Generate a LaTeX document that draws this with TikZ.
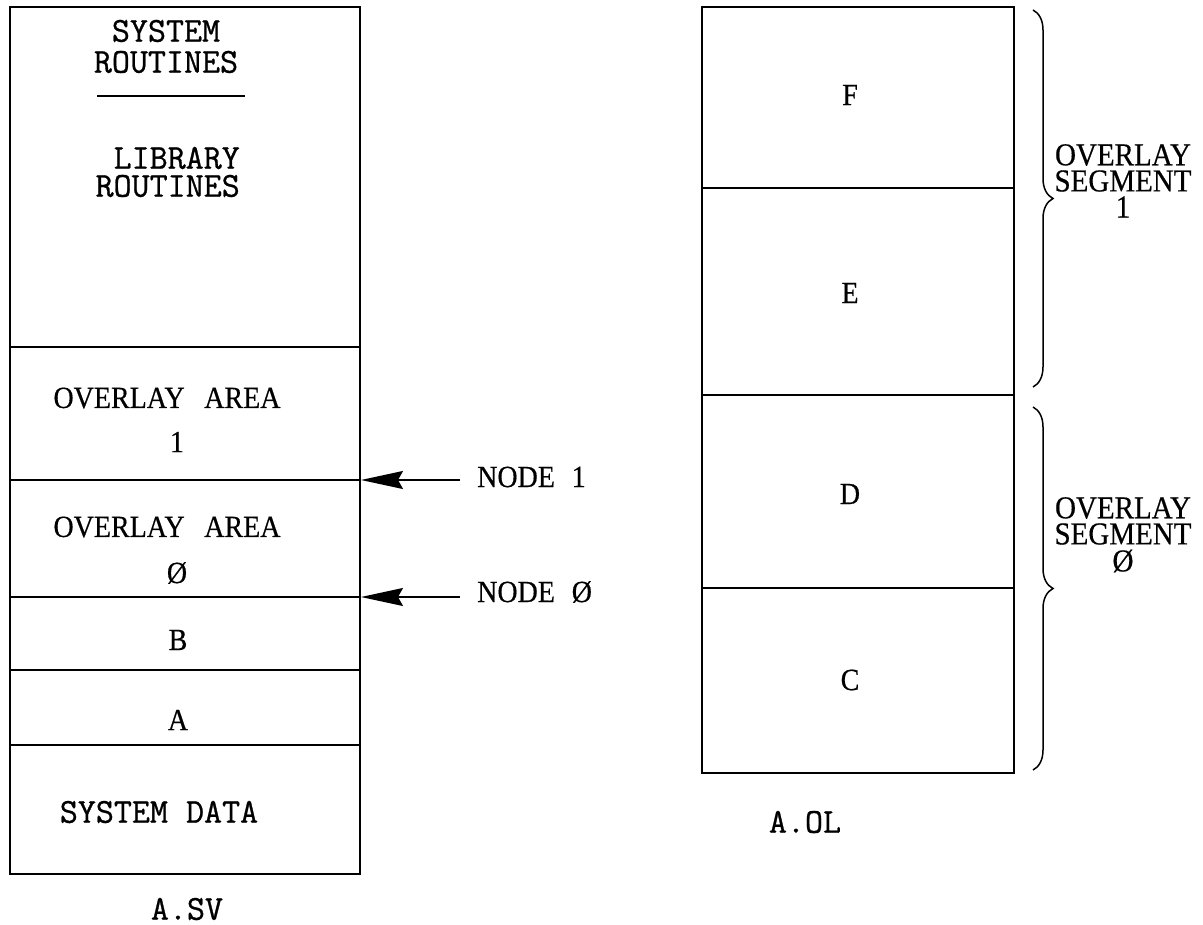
\documentclass[tikz,border=0pt]{standalone}
\usepackage{fontspec}
\usepackage{graphicx}
\setmainfont{Liberation Serif}[FakeBold=0.5]
\setmonofont{Latin Modern Mono}[FakeBold=0.8]
\usetikzlibrary{arrows.meta,decorations.pathreplacing}
\newcommand{\talltext}[1]{\scalebox{1}[1.1]{#1}}
\begin{document}
\begin{tikzpicture}[x=1pt,y=-1pt,
  box/.style={line width=1.5pt},
  sepline/.style={line width=1.5pt},
  lbl/.style={font=\fontsize{28}{28}\selectfont, inner sep=0pt},
  mlbl/.style={font=\ttfamily\fontsize{35}{35}\selectfont, inner sep=0pt},
  arr/.style={line width=1.5pt, -{Stealth[length=42pt,width=18pt,inset=5pt]}},
  brc/.style={line width=1.5pt, decorate, decoration={brace, amplitude=20pt}},
  seglbl/.style={font=\fontsize{29}{29}\selectfont, inner sep=0pt}]
\useasboundingbox (0,0) rectangle (1203,925);
% left memory map (A.SV)
\draw[box] (10,7) rectangle (360,874);
\draw[sepline] (10,347) -- (360,347);
\draw[sepline] (10,480) -- (360,480);
\draw[sepline] (10,597) -- (360,597);
\draw[sepline] (10,670) -- (360,670);
\draw[sepline] (10,745) -- (360,745);
\draw[sepline] (97,96) -- (245,96);
\node[mlbl] (sys) at (166,31) {SYSTEM};
\node[mlbl] (rout1) at (166,62) {ROUTINES};
\node[mlbl, anchor=east] (lib) at (240,158) {LIBRARY};
\node[mlbl, anchor=east] (rout2) at (240,186) {ROUTINES};
\node[lbl] (ov1) at (167,398) {\talltext{OVERLAY\hspace{0.7em}AREA}};
\node[lbl] (ov1n) at (177,442) {\talltext{1}};
\node[lbl] (ov0) at (167,527) {\talltext{OVERLAY\hspace{0.7em}AREA}};
\node[lbl] (ov0n) at (177,573) {\talltext{Ø}};
\node[lbl] (b) at (178,640) {\talltext{B}};
\node[lbl] (a) at (178,720) {\talltext{A}};
\node[mlbl] (sd) at (159,812) {SYSTEM DATA};
\node[mlbl] (asv) at (187,909) {A.SV};
% node pointers
\coordinate (p1) at (361,480);
\coordinate (p0) at (361,597);
\node[lbl, anchor=west] (n1) at (477,477) {\talltext{NODE\hspace{0.6em}1}};
\node[lbl, anchor=west] (n0) at (477,592) {\talltext{NODE\hspace{0.6em}Ø}};
\draw[arr] ([xshift=-17pt]n1.west |- p1) -- (p1);
\draw[arr] ([xshift=-17pt]n0.west |- p0) -- (p0);
% right memory map (A.OL)
\draw[box] (702,7) rectangle (1014,773);
\draw[sepline] (702,188) -- (1014,188);
\draw[sepline] (702,395) -- (1014,395);
\draw[sepline] (702,588) -- (1014,588);
\node[lbl] (f) at (850,95) {\talltext{F}};
\node[lbl] (e) at (850,293) {\talltext{E}};
\node[lbl] (d) at (850,494) {\talltext{D}};
\node[lbl] (c) at (850,680) {\talltext{C}};
\node[mlbl] (aol) at (805,822) {A.OL};
% braces
\coordinate (b1t) at (1033,10);
\coordinate (b1b) at (1033,387);
\coordinate (b0t) at (1033,407);
\coordinate (b0b) at (1033,770);
\draw[brc] (b1t) -- (b1b);
\draw[brc] (b0t) -- (b0b);
\node[seglbl] (s1a) at (1123,155) {\talltext{OVERLAY}};
\node[seglbl] (s1b) at (1123,181) {\talltext{SEGMENT}};
\node[seglbl] (s1c) at (1123,207) {\talltext{1}};
\node[seglbl] (s0a) at (1123,508) {\talltext{OVERLAY}};
\node[seglbl] (s0b) at (1123,534) {\talltext{SEGMENT}};
\node[seglbl] (s0c) at (1123,561) {\talltext{Ø}};
\end{tikzpicture}
\end{document}
